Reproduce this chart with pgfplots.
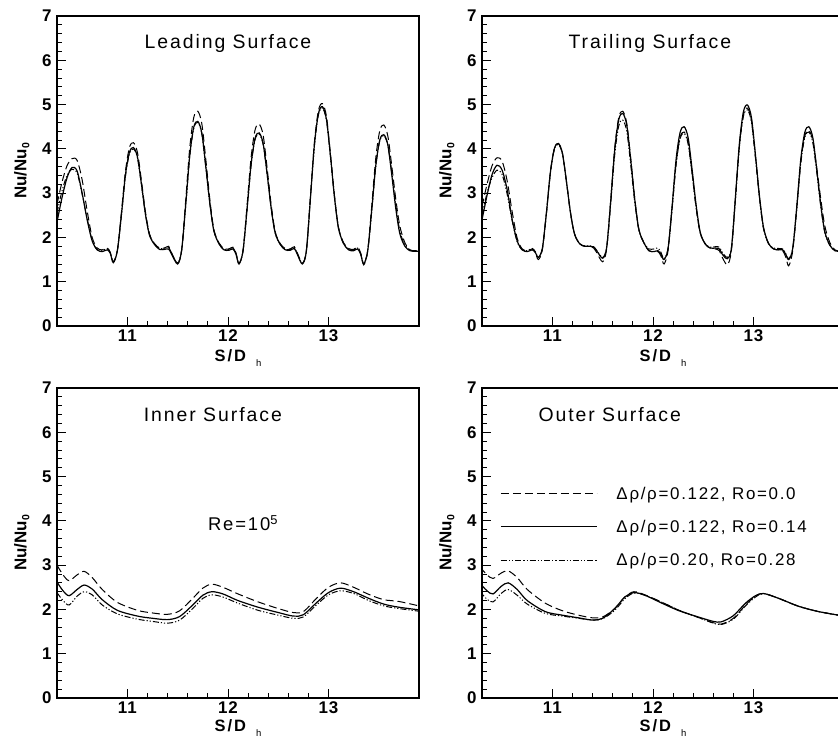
\documentclass[border=0pt]{standalone}
\usepackage{fontspec}
\setmainfont{Liberation Sans}
\newfontfamily\lsfont[LetterSpace=10]{Liberation Sans}
\newfontfamily\tkfont[LetterSpace=6]{Liberation Sans}
\usepackage{pgfplots}
\pgfplotsset{compat=1.18}
\usepackage{pgfplotstable}

\pgfplotstableread{
x d s c
10.30 2.75 2.35 2.55
10.35 3.25 2.90 3.05
10.40 3.62 3.35 3.40
10.45 3.78 3.58 3.54
10.50 3.74 3.50 3.45
10.55 3.30 3.00 2.98
10.60 2.60 2.40 2.42
10.65 2.00 1.92 1.93
10.70 1.76 1.72 1.72
10.75 1.72 1.68 1.70
10.80 1.76 1.72 1.75
10.83 1.66 1.64 1.66
10.86 1.45 1.43 1.45
10.90 1.70 1.70 1.70
10.94 2.55 2.50 2.48
10.98 3.48 3.40 3.37
11.02 4.03 3.92 3.88
11.06 4.14 4.03 4.00
11.10 3.92 3.82 3.80
11.14 3.28 3.20 3.18
11.18 2.57 2.52 2.52
11.22 2.08 2.05 2.06
11.27 1.86 1.84 1.85
11.32 1.76 1.73 1.75
11.37 1.76 1.73 1.76
11.41 1.80 1.74 1.78
11.44 1.65 1.62 1.64
11.50 1.42 1.40 1.42
11.54 1.72 1.72 1.72
11.58 2.84 2.74 2.72
11.62 4.02 3.85 3.82
11.66 4.71 4.49 4.46
11.70 4.85 4.62 4.60
11.74 4.57 4.36 4.34
11.78 3.76 3.60 3.58
11.82 2.86 2.77 2.76
11.86 2.18 2.15 2.15
11.91 1.88 1.86 1.86
11.96 1.75 1.72 1.73
12.01 1.74 1.71 1.73
12.05 1.78 1.74 1.77
12.08 1.65 1.62 1.63
12.11 1.42 1.40 1.41
12.15 1.70 1.70 1.70
12.19 2.72 2.64 2.62
12.23 3.80 3.65 3.62
12.27 4.43 4.24 4.21
12.31 4.56 4.36 4.33
12.35 4.31 4.12 4.10
12.39 3.56 3.43 3.42
12.43 2.74 2.66 2.66
12.47 2.13 2.10 2.10
12.52 1.86 1.84 1.85
12.57 1.75 1.72 1.73
12.62 1.74 1.71 1.73
12.66 1.79 1.75 1.77
12.69 1.65 1.62 1.63
12.74 1.42 1.40 1.41
12.78 1.70 1.70 1.70
12.82 2.91 2.88 2.86
12.86 4.15 4.10 4.07
12.90 4.87 4.80 4.77
12.94 5.02 4.95 4.92
12.98 4.73 4.66 4.64
13.02 3.87 3.83 3.82
13.06 2.93 2.90 2.90
13.10 2.22 2.20 2.20
13.15 1.88 1.86 1.86
13.20 1.75 1.72 1.73
13.25 1.73 1.70 1.72
13.29 1.78 1.74 1.76
13.32 1.65 1.62 1.63
13.35 1.38 1.40 1.41
13.39 1.70 1.70 1.70
13.43 2.71 2.62 2.61
13.47 3.79 3.62 3.60
13.51 4.41 4.20 4.18
13.55 4.54 4.32 4.30
13.59 4.29 4.09 4.08
13.63 3.60 3.40 3.45
13.67 2.85 2.64 2.72
13.71 2.25 2.08 2.14
13.76 1.88 1.80 1.83
13.81 1.72 1.70 1.71
13.86 1.70 1.69 1.70
13.90 1.70 1.69 1.70
}\leading

\pgfplotstableread{
x d s c
10.30 2.70 2.40 2.50
10.35 3.20 2.95 3.00
10.40 3.62 3.42 3.35
10.45 3.80 3.63 3.52
10.50 3.72 3.52 3.42
10.55 3.28 3.08 2.98
10.60 2.58 2.40 2.38
10.65 1.98 1.92 1.90
10.70 1.74 1.72 1.72
10.75 1.70 1.68 1.70
10.80 1.74 1.72 1.75
10.83 1.66 1.66 1.68
10.86 1.50 1.55 1.55
10.90 1.72 1.75 1.75
10.94 2.54 2.54 2.53
10.98 3.47 3.47 3.45
11.02 4.01 4.01 3.99
11.06 4.12 4.12 4.10
11.10 3.90 3.90 3.88
11.14 3.26 3.26 3.25
11.18 2.56 2.56 2.55
11.22 2.08 2.08 2.08
11.27 1.86 1.86 1.86
11.32 1.80 1.80 1.81
11.37 1.80 1.80 1.81
11.41 1.76 1.78 1.79
11.44 1.66 1.70 1.71
11.50 1.45 1.53 1.55
11.54 1.75 1.78 1.78
11.58 2.84 2.82 2.76
11.62 4.02 3.98 3.87
11.66 4.71 4.66 4.52
11.70 4.85 4.80 4.65
11.74 4.57 4.53 4.39
11.78 3.76 3.73 3.62
11.82 2.86 2.84 2.78
11.86 2.18 2.18 2.16
11.91 1.88 1.88 1.88
11.96 1.70 1.70 1.74
12.01 1.68 1.68 1.74
12.05 1.68 1.70 1.76
12.08 1.58 1.62 1.66
12.11 1.40 1.50 1.52
12.15 1.70 1.75 1.75
12.19 2.65 2.69 2.63
12.23 3.67 3.76 3.64
12.27 4.26 4.37 4.23
12.31 4.38 4.50 4.35
12.35 4.14 4.25 4.11
12.39 3.44 3.52 3.42
12.43 2.67 2.72 2.66
12.47 2.10 2.12 2.10
12.52 1.85 1.85 1.86
12.57 1.76 1.76 1.78
12.62 1.74 1.76 1.79
12.66 1.70 1.74 1.78
12.69 1.55 1.62 1.66
12.74 1.38 1.52 1.55
12.78 1.70 1.75 1.75
12.82 2.87 2.90 2.85
12.86 4.08 4.13 4.05
12.90 4.77 4.84 4.74
12.94 4.92 4.99 4.88
12.98 4.64 4.70 4.60
13.02 3.81 3.85 3.78
13.06 2.89 2.92 2.88
13.10 2.20 2.22 2.20
13.15 1.86 1.86 1.86
13.20 1.74 1.74 1.76
13.25 1.72 1.72 1.75
13.29 1.70 1.72 1.74
13.32 1.56 1.62 1.64
13.35 1.36 1.50 1.52
13.39 1.70 1.75 1.75
13.43 2.66 2.69 2.65
13.47 3.70 3.76 3.67
13.51 4.29 4.37 4.26
13.55 4.42 4.50 4.38
13.59 4.18 4.25 4.14
13.63 3.55 3.52 3.45
13.67 2.85 2.72 2.68
13.71 2.25 2.12 2.10
13.76 1.88 1.82 1.82
13.81 1.72 1.70 1.70
13.86 1.69 1.69 1.69
13.90 1.69 1.69 1.69
}\trailing

\pgfplotstableread{
x d s c
10.30 3.00 2.62 2.38
10.36 2.78 2.42 2.20
10.42 2.65 2.31 2.10
10.50 2.78 2.45 2.30
10.57 2.86 2.55 2.40
10.65 2.72 2.46 2.33
10.75 2.45 2.22 2.10
10.90 2.16 1.98 1.90
11.10 1.98 1.85 1.78
11.25 1.92 1.80 1.73
11.40 1.89 1.77 1.69
11.52 1.97 1.84 1.76
11.65 2.25 2.10 2.02
11.75 2.48 2.32 2.25
11.84 2.57 2.40 2.33
11.95 2.50 2.35 2.28
12.10 2.35 2.20 2.14
12.30 2.17 2.05 1.98
12.50 2.02 1.93 1.87
12.65 1.93 1.85 1.80
12.75 1.95 1.88 1.83
12.88 2.25 2.15 2.10
13.00 2.50 2.38 2.33
13.12 2.60 2.48 2.42
13.25 2.50 2.40 2.36
13.40 2.34 2.25 2.20
13.55 2.22 2.12 2.08
13.70 2.18 2.05 2.02
13.90 2.08 1.99 1.96
}\inner

\pgfplotstableread{
x d s c
10.28 2.96 2.59 2.40
10.35 2.78 2.42 2.23
10.41 2.70 2.35 2.17
10.49 2.82 2.52 2.36
10.56 2.87 2.60 2.45
10.65 2.72 2.45 2.32
10.75 2.45 2.20 2.12
10.93 2.14 1.95 1.91
11.10 1.97 1.87 1.85
11.26 1.87 1.81 1.80
11.40 1.81 1.76 1.76
11.50 1.83 1.80 1.79
11.62 2.02 2.02 1.98
11.72 2.28 2.28 2.24
11.81 2.40 2.38 2.37
11.92 2.33 2.32 2.32
12.10 2.15 2.13 2.15
12.26 1.98 1.97 1.98
12.45 1.82 1.83 1.82
12.60 1.70 1.73 1.69
12.68 1.67 1.72 1.66
12.80 1.80 1.86 1.78
12.92 2.10 2.14 2.08
13.02 2.30 2.31 2.28
13.10 2.36 2.36 2.36
13.25 2.25 2.25 2.25
13.45 2.07 2.07 2.07
13.65 1.95 1.95 1.95
13.90 1.85 1.85 1.85
}\outer

\pgfplotsset{
  panel/.style={
    scale only axis, width=362bp, height=310bp,
    xmin=10.3, xmax=13.9, ymin=0, ymax=7,
    xtick={11,12,13}, ytick={0,1,2,3,4,5,6,7},
    minor x tick num=4, minor y tick num=4,
    tick align=inside, tick pos=left,
    major tick length=9bp, minor tick length=5bp,
    axis line style={line width=1.1bp},
    tick style={black, line width=0.8bp},
    /pgf/number format/assume math mode=true,
    tick label style={font=\fontsize{17}{17}\selectfont\tkfont\bfseries},
    yticklabel style={xshift=-2bp},
    xticklabel style={yshift=-0.5bp},
    xlabel={\lsfont\bfseries S\hspace{2bp}/\hspace{2bp}D\raisebox{-5.5bp}{\fontsize{9.5}{9.5}\selectfont\mdseries\hspace{10bp}h}},
    xlabel style={font=\fontsize{16.5}{16.5}\selectfont, at={(axis description cs:0.5,0)}, anchor=north, yshift=-20bp},
    ylabel={\bfseries Nu/Nu\raisebox{-3bp}{\fontsize{10.5}{10.5}\selectfont 0}},
    ylabel style={font=\fontsize{17}{17}\selectfont, at={(axis description cs:-0.097,0.5)}, anchor=center},
    clip=true,
  },
  lowpanel/.style={xlabel style={yshift=2bp}},
  sdash/.style={black, line width=1.0bp, dash pattern=on 8bp off 4bp},
  ssolid/.style={black, line width=1.2bp},
  sdd/.style={black, line width=1.0bp, dash pattern=on 6bp off 2bp on 1.2bp off 2bp on 1.2bp off 2bp},
}

\begin{document}
\begin{tikzpicture}
\useasboundingbox (0bp,0bp) rectangle (838bp,740bp);

\begin{axis}[panel, at={(57bp,414bp)}, anchor=south west]
\addplot[sdash, smooth] table[x=x,y=d]{\leading};
\addplot[ssolid, smooth] table[x=x,y=s]{\leading};
\addplot[sdd, smooth] table[x=x,y=c]{\leading};
\node[font=\fontsize{19.5}{19.5}\selectfont\lsfont] at (axis cs:12.0,6.39) {Leading Surface};
\end{axis}

\begin{axis}[panel, at={(482bp,414bp)}, anchor=south west]
\addplot[sdash, smooth] table[x=x,y=d]{\trailing};
\addplot[ssolid, smooth] table[x=x,y=s]{\trailing};
\addplot[sdd, smooth] table[x=x,y=c]{\trailing};
\node[font=\fontsize{19.5}{19.5}\selectfont\lsfont] at (axis cs:11.97,6.39) {Trailing Surface};
\end{axis}

\begin{axis}[panel, lowpanel, at={(57bp,42bp)}, anchor=south west]
\addplot[sdash, smooth] table[x=x,y=d]{\inner};
\addplot[ssolid, smooth] table[x=x,y=s]{\inner};
\addplot[sdd, smooth] table[x=x,y=c]{\inner};
\node[font=\fontsize{19.5}{19.5}\selectfont\lsfont] at (axis cs:11.85,6.39) {Inner Surface};
\node[font=\fontsize{18.5}{18.5}\selectfont\lsfont] at (axis cs:12.15,3.95) {Re=10\textsuperscript{5}};
\end{axis}

\begin{axis}[panel, lowpanel, at={(482bp,42bp)}, anchor=south west,
  legend style={draw=none, fill=none, at={(axis cs:10.48,4.82)}, anchor=north west,
    font=\fontsize{17}{17}\selectfont\lsfont, row sep=15.5bp, inner sep=0pt,
    /tikz/every odd column/.append style={column sep=17bp}},
  legend image code/.code={\draw[#1] (0bp,0bp) -- (96bp,0bp);},
  legend cell align=left]
\addplot[sdash, smooth] table[x=x,y=d]{\outer};
\addlegendentry{Δρ/ρ=0.122, Ro=0.0}
\addplot[ssolid, smooth] table[x=x,y=s]{\outer};
\addlegendentry{Δρ/ρ=0.122, Ro=0.14}
\addplot[sdd, smooth] table[x=x,y=c]{\outer};
\addlegendentry{Δρ/ρ=0.20, Ro=0.28}
\node[font=\fontsize{19.5}{19.5}\selectfont\lsfont] at (axis cs:11.57,6.39) {Outer Surface};
\end{axis}
\end{tikzpicture}
\end{document}
